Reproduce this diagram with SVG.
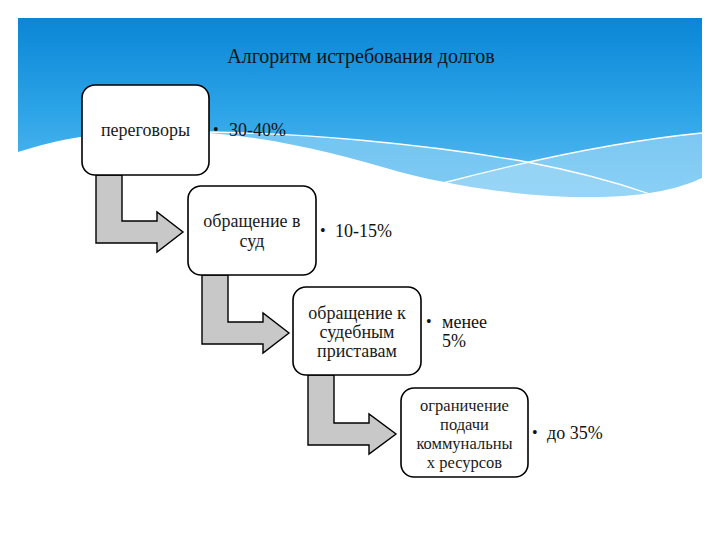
<svg xmlns="http://www.w3.org/2000/svg" width="720" height="540" viewBox="0 0 720 540">
  <defs>
    <linearGradient id="sky" x1="0" y1="18" x2="0" y2="200" gradientUnits="userSpaceOnUse">
      <stop offset="0" stop-color="#0a86d6"/>
      <stop offset="0.5" stop-color="#2ba3e7"/>
      <stop offset="1" stop-color="#5fbef1"/>
    </linearGradient>
    <style>
      .node { fill: #ffffff; stroke: #000000; stroke-width: 1.6; }
      text { font-family: "Liberation Serif", "DejaVu Serif", serif; }
      .lbl { font-size: 18px; fill: #1a1a1a; text-anchor: middle; }
      .lbl4 { font-size: 16.5px; fill: #1a1a1a; text-anchor: middle; }
      .val { font-size: 18px; fill: #111111; }
      .dot { font-size: 16px; fill: #111111; }
      .arrow { fill: #c8c8c8; stroke: #000000; stroke-width: 1.4; stroke-linejoin: miter; }
      .wline { fill: none; stroke: #ffffff; stroke-width: 1.3; }
    </style>
  </defs>
  <rect x="0" y="0" width="720" height="540" fill="#ffffff"/>
  <g id="background">
    <rect x="18" y="18" width="684" height="190" fill="url(#sky)"/>
    <path d="M205,132 C300,133 420,143 527,162 C580,172 620,183 660,198 L702,200 L702,210 L200,210 Z" fill="#8dd0f5" opacity="0.7"/>
    <path d="M443,183 C500,168 600,143 702,133 L702,210 L430,210 Z" fill="#a9dcf8" opacity="0.6"/>
    <path d="M18,152 C60,138 110,130 170,131 C260,133 330,152 400,172 C470,190 540,198 600,197 C650,196 680,188 702,178 L702,212 L18,212 Z" fill="#ffffff"/>
    <path class="wline" d="M205,132 C300,133 420,143 527,162 C580,172 615,182 650,194"/>
    <path class="wline" d="M443,183 C500,168 600,143 702,133"/>
    <text x="361" y="63" text-anchor="middle" font-size="20" fill="#111111">Алгоритм истребования долгов</text>
  </g>
  <g id="connectors">
    <path class="arrow" d="M96,175 L96,243 L157,243 L157,252 L183,232 L157,212 L157,221 L122,221 L122,175 Z"/>
    <path class="arrow" d="M202,275 L202,344 L263,344 L263,353 L289,333 L263,313 L263,322 L228,322 L228,275 Z"/>
    <path class="arrow" d="M308,375 L308,445 L369,445 L369,454 L396,434 L369,414 L369,423 L334,423 L334,375 Z"/>
  </g>
  <g id="node1">
    <rect class="node" x="82" y="85" width="127" height="90" rx="13"/>
    <text class="lbl" x="145.5" y="136">переговоры</text>
    <text class="dot" x="213" y="135">•</text>
    <text class="val" x="229" y="136">30-40%</text>
  </g>
  <g id="node2">
    <rect class="node" x="188" y="186" width="128" height="89" rx="13"/>
    <text class="lbl" x="252" y="227">обращение в</text>
    <text class="lbl" x="252" y="247">суд</text>
    <text class="dot" x="320" y="236">•</text>
    <text class="val" x="335" y="237">10-15%</text>
  </g>
  <g id="node3">
    <rect class="node" x="293" y="287" width="128" height="88" rx="13"/>
    <text class="lbl" x="357" y="319">обращение к</text>
    <text class="lbl" x="357" y="338">судебным</text>
    <text class="lbl" x="357" y="357">приставам</text>
    <text class="dot" x="426" y="327">•</text>
    <text class="val" x="442" y="328">менее</text>
    <text class="val" x="442" y="347">5%</text>
  </g>
  <g id="node4">
    <rect class="node" x="401" y="388" width="127" height="89" rx="13"/>
    <text class="lbl4" x="464.5" y="411">ограничение</text>
    <text class="lbl4" x="464.5" y="430">подачи</text>
    <text class="lbl4" x="464.5" y="449">коммунальны</text>
    <text class="lbl4" x="464.5" y="468">х ресурсов</text>
    <text class="dot" x="532" y="438">•</text>
    <text class="val" x="547" y="439">до 35%</text>
  </g>
</svg>
